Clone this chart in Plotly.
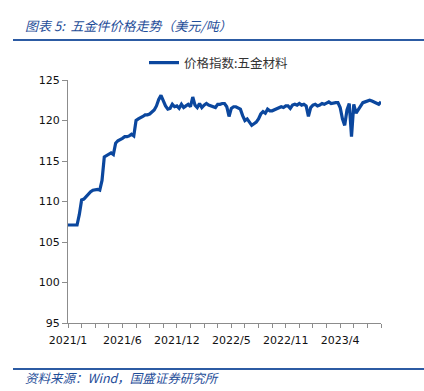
import pandas as pd
import plotly.graph_objects as go

W, H = 424, 391
L, R, T, B = 68, 43, 80, 68

start_date = "2021-01-01"
values = [
    107.1, 107.1, 107.1, 107.1, 107.1, 108.4, 110.2, 110.3, 110.6, 111.0,
    111.2, 111.4, 111.5, 111.5, 111.4, 112.6, 115.5, 115.7, 115.9, 116.0,
    115.8, 117.2, 117.5, 117.6, 117.8, 118.0, 118.0, 118.1, 118.3, 118.1,
    120.0, 120.2, 120.3, 120.5, 120.7, 120.7, 120.8, 121.0, 121.3, 121.8,
    122.6, 123.1, 122.4, 121.8, 121.4, 121.5, 122.0, 121.7, 121.8, 121.5,
    122.0, 121.6, 121.8, 122.0, 121.7, 122.9, 121.9, 121.6, 122.1, 121.6,
    121.9, 122.1, 121.9, 121.8, 121.7, 121.6, 122.0, 122.0, 122.1, 122.1,
    121.7, 120.5, 121.5, 121.7, 121.7, 121.6, 121.4, 120.6, 120.0, 120.2,
    119.8, 119.4, 119.6, 119.8, 120.2, 120.8, 121.1, 120.9, 121.4, 121.2,
    121.2, 121.3, 121.5, 121.6, 121.7, 121.6, 121.8, 121.8, 121.5, 121.9,
    122.0, 121.9, 122.1, 121.9, 122.0, 121.8, 120.5, 121.6, 121.9, 122.0,
    121.8, 121.9, 122.1, 122.0, 122.1, 122.3, 122.1, 122.2, 122.2, 122.2,
    121.6, 120.2, 119.4, 121.3, 122.1, 118.0, 122.0, 120.9, 121.3, 121.8,
    122.2, 122.3, 122.4, 122.5, 122.4, 122.3, 122.2, 122.0, 122.3,
]
dates = pd.date_range(start_date, periods=len(values), freq="7D")

tick_labels = ["2021/1", "2021/6", "2021/12", "2022/5", "2022/11", "2023/4"]
series_name = "价格指数:五金材料"
title_text = "图表 5:  五金件价格走势（美元/吨）"
source_text = "资料来源：Wind，国盛证券研究所"

# ticks every 6 weeks, labels every 24 weeks
tick_vals = list(dates[::6])
tick_text = []
for i in range(len(tick_vals)):
    tick_text.append(tick_labels[i // 4] if i % 4 == 0 and i // 4 < len(tick_labels) else "")

pw, ph = W - L - R, H - T - B
def px(x):
    return (x - L) / pw
def py(y):
    return (H - B - y) / ph

fig = go.Figure()
fig.add_trace(go.Scatter(
    x=dates, y=values, mode="lines", name=series_name,
    line=dict(color="#0B479E", width=3.2),
))

blue = "#2C5BA3"
fig.update_layout(
    width=W, height=H,
    margin=dict(l=L, r=R, t=T, b=B),
    paper_bgcolor="white", plot_bgcolor="white",
    showlegend=True,
    legend=dict(orientation="h", x=px(144), y=py(63), xanchor="left", yanchor="middle",
                font=dict(family="Noto Sans CJK SC", size=12.5, color="#333333"),
                bgcolor="rgba(0,0,0,0)", itemwidth=30),
    xaxis=dict(
        range=[dates[0], dates[-1]],
        tickmode="array", tickvals=tick_vals, ticktext=tick_text,
        ticks="outside", ticklen=4, tickcolor="#8C8C8C",
        showline=True, linecolor="#8C8C8C", linewidth=1,
        showgrid=False, zeroline=False,
        tickfont=dict(family="DejaVu Sans", size=11, color="#111111"),
        ticklabelstandoff=3,
    ),
    yaxis=dict(
        range=[95, 125], tickmode="linear", tick0=95, dtick=5,
        ticks="outside", ticklen=5, tickcolor="#8C8C8C",
        showline=True, linecolor="#8C8C8C", linewidth=1,
        showgrid=False, zeroline=False,
        tickfont=dict(family="DejaVu Sans", size=11, color="#111111"),
    ),
    shapes=[
        dict(type="line", xref="paper", yref="paper", x0=px(13), x1=px(424), y0=py(40), y1=py(40),
             line=dict(color=blue, width=2)),
        dict(type="line", xref="paper", yref="paper", x0=px(13), x1=px(424), y0=py(369), y1=py(369),
             line=dict(color=blue, width=2)),
    ],
    annotations=[
        dict(text="<i>" + title_text + "</i>", xref="paper", yref="paper", x=px(23), y=py(25),
             xanchor="left", yanchor="middle", showarrow=False,
             font=dict(family="Noto Sans CJK SC", size=13, color="#1F4E99")),
        dict(text="<i>" + source_text + "</i>", xref="paper", yref="paper", x=px(23), y=py(377),
             xanchor="left", yanchor="middle", showarrow=False,
             font=dict(family="Noto Sans CJK SC", size=12.5, color="#1F4E99")),
    ],
)

fig.write_html("out.html", config={"displayModeBar": False},
               post_script="document.body.style.margin='0';")
